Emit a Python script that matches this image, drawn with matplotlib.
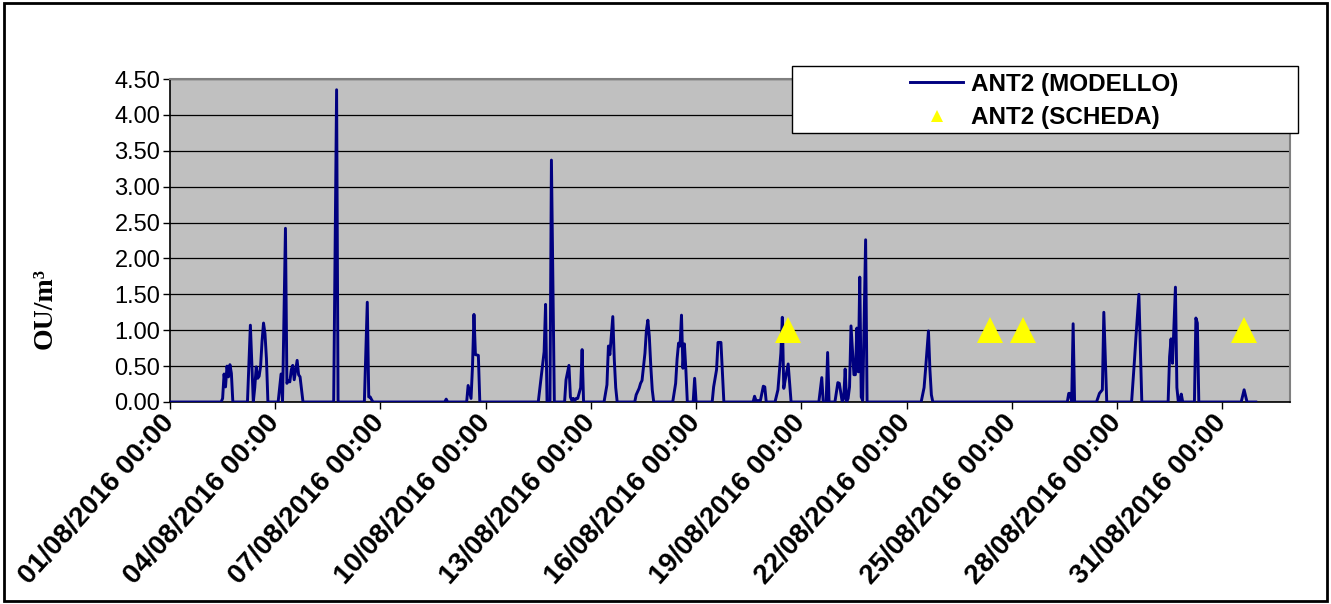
import matplotlib
matplotlib.use('Agg')
import matplotlib.pyplot as plt
from matplotlib.patches import Rectangle
from matplotlib.font_manager import FontProperties

# data: hours from 01/08/2016 00:00, values in OU/m3
model_hours = [0,
    35, 36, 37, 38, 39, 40, 41, 42, 43,
    53, 55, 57, 58, 59, 60, 61, 62, 63, 64, 65, 66, 67,
    74, 76, 77, 79, 80, 81, 82, 83, 84, 85, 86, 87, 88, 89, 91,
    112, 114, 115,
    133, 135, 136, 137, 138, 139,
    188, 189, 190,
    203, 204, 206, 207, 208, 209, 211, 212,
    252, 254, 256, 257, 258, 260, 261, 263,
    270, 271, 273, 274, 275, 276, 277, 278, 279, 281, 282, 283,
    297, 299, 300, 301, 303, 304, 305, 306,
    318, 319, 321, 322, 323, 325, 326, 327, 328, 329, 330, 331,
    344, 346, 347, 348, 349, 350, 351, 352, 353, 354,
    358, 359, 360,
    371, 372, 374, 375, 377, 379,
    399, 400, 401, 403, 404, 406, 407, 408,
    414, 416, 418, 419, 420, 421, 423, 425,
    444, 446, 447, 449, 450, 451,
    455, 457, 458, 460, 461, 462, 463, 464, 465, 466, 468, 469, 470, 471, 472, 473, 474, 476, 477,
    514, 516, 517, 519, 520, 521, 522,
    614, 615, 616, 617, 618, 619,
    634, 636, 638, 639, 641,
    658, 660, 661, 663, 665,
    683, 684, 685, 686, 688, 689, 690, 691, 692, 693,
    701, 702, 703, 704,
    733, 735, 737,
    743]
model_values = [0,
    0, 0.05, 0.39, 0.21, 0.50, 0.35, 0.52, 0.40, 0,
    0, 1.07, 0, 0.20, 0.49, 0.33, 0.36, 0.50, 0.85, 1.10, 0.95, 0.60, 0,
    0, 0.39, 0, 2.42, 0.26, 0.30, 0.28, 0.45, 0.51, 0.31, 0.45, 0.58, 0.38, 0.35, 0,
    0, 4.35, 0,
    0, 1.39, 0.07, 0.07, 0.03, 0,
    0, 0.04, 0,
    0, 0.23, 0.05, 0.50, 1.22, 0.66, 0.65, 0,
    0, 0.35, 0.70, 1.36, 0, 0, 3.37, 0,
    0, 0.31, 0.51, 0.07, 0.02, 0.05, 0.02, 0.05, 0.05, 0.20, 0.73, 0,
    0, 0.24, 0.78, 0.66, 1.19, 0.60, 0.20, 0,
    0, 0.10, 0.19, 0.26, 0.30, 0.68, 1.00, 1.14, 0.91, 0.50, 0.17, 0,
    0, 0.26, 0.60, 0.82, 0.78, 1.21, 0.47, 0.81, 0.45, 0,
    0, 0.33, 0,
    0, 0.21, 0.45, 0.83, 0.83, 0,
    0, 0.08, 0.02, 0.02, 0.02, 0.22, 0.21, 0,
    0, 0.17, 0.68, 1.18, 0.19, 0.31, 0.53, 0,
    0, 0.34, 0, 0, 0.69, 0,
    0, 0.27, 0.26, 0, 0.05, 0.46, 0, 0.05, 0.21, 1.06, 0.38, 0.38, 1.03, 0.42, 1.74, 0.07, 0.02, 2.26, 0,
    0, 0.20, 0.45, 0.99, 0.45, 0.10, 0,
    0, 0.12, 0.12, 0, 1.09, 0,
    0, 0.12, 0.17, 1.25, 0,
    0, 0.59, 0.91, 1.50, 0,
    0, 0.63, 0.88, 0.54, 1.60, 0.20, 0, 0.02, 0.11, 0,
    0, 1.17, 1.10, 0,
    0, 0.17, 0,
    0]

scheda_hours = [423, 561, 584, 735]
scheda_values = [1.0, 1.0, 1.0, 1.0]

tick_hours = list(range(0, 721, 72))
tick_labels = ['01/08/2016 00:00', '04/08/2016 00:00', '07/08/2016 00:00',
               '10/08/2016 00:00', '13/08/2016 00:00', '16/08/2016 00:00',
               '19/08/2016 00:00', '22/08/2016 00:00', '25/08/2016 00:00',
               '28/08/2016 00:00', '31/08/2016 00:00']
y_ticks = [0, 0.5, 1.0, 1.5, 2.0, 2.5, 3.0, 3.5, 4.0, 4.5]

W, H = 1331, 604
fig = plt.figure(figsize=(W / 100, H / 100), dpi=100)
fig.patch.set_facecolor('white')

ax = fig.add_axes([170 / W, 202 / H, 1120 / W, 323 / H])
ax.set_facecolor('#C0C0C0')

# model line and scheda markers
line, = ax.plot(model_hours, model_values, color='#000080', lw=2.1, zorder=3)
pts, = ax.plot(scheda_hours, scheda_values, linestyle='none', marker='^',
               markersize=18.5, color='#FFFF00', markeredgewidth=0, zorder=4)

ax.set_xlim(0, 766.4)
ax.set_ylim(0, 4.5)
ax.set_yticks(y_ticks)
ax.set_yticklabels(['%.2f' % v for v in y_ticks], family='Liberation Sans', fontsize=17)
ax.set_xticks(tick_hours)
ax.set_xticklabels(tick_labels, family='Liberation Sans', fontweight='bold', fontsize=20,
                   rotation=48, ha='right', va='center', rotation_mode='anchor')
ax.tick_params(axis='both', direction='out', length=5, width=1, color='black')
ax.tick_params(axis='x', pad=7)
ax.tick_params(axis='y', pad=2)

ax.yaxis.grid(True, color='black', lw=0.9)
ax.set_axisbelow(True)
for s in ['left', 'bottom']:
    ax.spines[s].set_color('black')
    ax.spines[s].set_linewidth(1.2)
for s in ['top', 'right']:
    ax.spines[s].set_color('#808080')
    ax.spines[s].set_linewidth(1.5)

# y label
fig.text(45 / W, 1 - 308 / H, 'OU/m³', rotation=90, ha='center', va='center',
         family='Liberation Serif', fontweight='bold', fontsize=20)

# legend box
box = Rectangle((792 / W, 1 - 133 / H), 506 / W, 67 / H, transform=fig.transFigure,
                facecolor='white', edgecolor='black', lw=1, zorder=3)
fig.add_artist(box)
fig.legend([line, pts], ['ANT2 (MODELLO)', 'ANT2 (SCHEDA)'], loc='center left',
           bbox_to_anchor=(910 / W, 1 - 101 / H), frameon=False, borderpad=0,
           borderaxespad=0, handlelength=2.2, handletextpad=0.3, labelspacing=0.45,
           markerscale=0.5,
           prop=FontProperties(family='Liberation Sans', weight='bold', size=17.5))

# chart border
fig.add_artist(Rectangle((4 / W, 3 / H), 1323 / W, 598 / H, transform=fig.transFigure,
                         fill=False, edgecolor='black', lw=2))

fig.savefig('out.png', dpi=100)
